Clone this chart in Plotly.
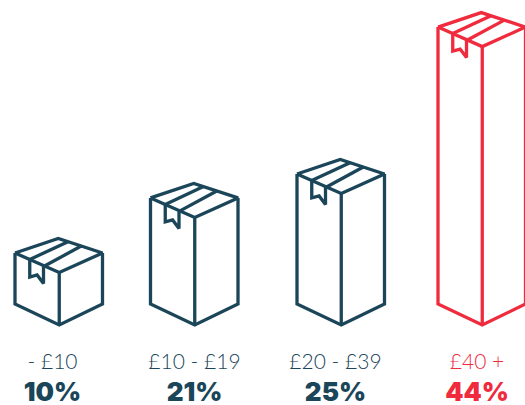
import plotly.graph_objects as go

# --- data ---
categories = ["- £10", "£10 - £19", "£20 - £39", "£40 +"]
shares = [10, 21, 25, 44]
# height each box is drawn at, on the share scale (the last box is drawn taller than its share)
drawn_heights = [10.0, 20.8, 25.5, 54.3]
category_positions = [15, 150.5, 297, 438]      # left edge of each box on the x axis
label_centres = [52.5, 194.5, 335.5, 477]
highlight = [False, False, False, True]

NAVY = "#1b4659"
RED = "#ef2b3d"

W, H = 525, 405
BASE_PX = 304          # pixel row of share 0
UNIT_PX = 5.1          # pixels per share unit
BOX_W = 87.5
BACK_DY, FRONT_DY, BOTTOM_DY = 14.5, 19.5, 21


def yv(dy):
    """pixel offset -> axis units"""
    return dy / UNIT_PX


def box_path(left, height):
    """outline of one box in axis units, derived from its position and height"""
    mid = left + BOX_W / 2 + 0.5
    right = left + BOX_W
    top = height
    xs, ys = [], []

    def seg(*pts):
        for px, py in pts:
            xs.append(px)
            ys.append(py)
        xs.append(None)
        ys.append(None)

    L = (left, top)
    B = (left + BOX_W / 2 - 0.5, top + yv(BACK_DY))
    R = (right, top)
    F = (mid, top - yv(FRONT_DY))
    # top face
    seg(L, B, R, F, L)
    # sides and base
    seg(L, (left, 0), (mid, -yv(BOTTOM_DY)), (right, 0), R)
    seg(F, (mid, -yv(BOTTOM_DY)))

    def lerp(a, b, t):
        return (a[0] + (b[0] - a[0]) * t, a[1] + (b[1] - a[1]) * t)

    # tape stripes
    a1, a2 = lerp(L, F, 1 / 3), lerp(L, F, 2 / 3)
    seg(a1, lerp(B, R, 0.22))
    seg(a2, lerp(B, R, 0.52))
    # hanging tag
    tag = yv(17.5)
    seg(a1,
        (a1[0], a1[1] - tag),
        ((a1[0] + a2[0]) / 2, a1[1] - tag + yv(2)),
        (a2[0] - 1, a2[1] - tag),
        (a2[0] - 1, a2[1]))
    return xs, ys


fig = go.Figure()

for left, height, hot in zip(category_positions, drawn_heights, highlight):
    xs, ys = box_path(left, height)
    fig.add_trace(go.Scatter(
        x=xs, y=ys, mode="lines", hoverinfo="skip", showlegend=False,
        line=dict(color=RED if hot else NAVY, width=3.3),
    ))

colors = [RED if h else NAVY for h in highlight]
label_y = yv(BASE_PX - 364)
share_y = yv(BASE_PX - 394)

fig.add_trace(go.Scatter(
    x=label_centres, y=[label_y] * len(categories), text=categories,
    mode="text", textposition="middle center", showlegend=False, hoverinfo="skip",
    textfont=dict(family="Lato", size=21, color=colors, weight=300),
))
fig.add_trace(go.Scatter(
    x=label_centres, y=[share_y] * len(shares), text=[f"{s}%" for s in shares],
    mode="text", textposition="middle center", showlegend=False, hoverinfo="skip",
    textfont=dict(family="Inter", size=26, color=colors, weight=900),
))

fig.update_layout(
    width=W, height=H, margin=dict(l=0, r=0, t=0, b=0),
    paper_bgcolor="white", plot_bgcolor="white",
    xaxis=dict(range=[0, W], visible=False, fixedrange=True),
    yaxis=dict(range=[yv(BASE_PX - H), yv(BASE_PX)], visible=False, fixedrange=True),
)

fig.write_html(
    "out.html",
    config={"displayModeBar": False},
    post_script="document.body.style.margin='0';document.body.style.overflow='hidden';",
)
